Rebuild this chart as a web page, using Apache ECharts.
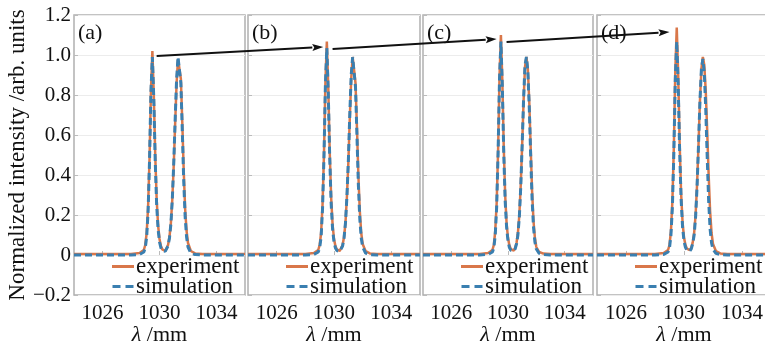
<!DOCTYPE html>
<html>
<head>
<meta charset="utf-8">
<script src="https://cdn.jsdelivr.net/npm/echarts@6/dist/echarts.min.js"></script>
<style>
  html, body { margin: 0; padding: 0; background: #fff; }
  #chart { width: 765px; height: 345px; }
</style>
</head>
<body>
<div id="chart"></div>
<script>
// wavelength samples shared by every panel (nm)
const wavelength = [1024, 1028, 1028.6, 1028.9, 1029.0, 1029.1, 1029.2, 1029.3, 1029.4, 1029.5,
  1029.6, 1029.7, 1029.8, 1029.9, 1030.0, 1030.1, 1030.2, 1030.3, 1030.4, 1030.5,
  1030.6, 1030.7, 1030.8, 1030.9, 1031.0, 1031.1, 1031.2, 1031.3, 1031.4, 1031.5,
  1031.6, 1031.7, 1031.8, 1031.9, 1032.0, 1032.2, 1032.5, 1033, 1036];

const expA = [0.005, 0.005, 0.01, 0.025, 0.05, 0.11, 0.24, 0.48, 0.82, 1.02,
  0.80, 0.50, 0.28, 0.15, 0.08, 0.045, 0.028, 0.02, 0.02, 0.03,
  0.05, 0.09, 0.16, 0.28, 0.45, 0.66, 0.86, 0.98, 0.99, 0.88,
  0.66, 0.42, 0.23, 0.12, 0.06, 0.02, 0.008, 0.005, 0.005];
const simA = [0, 0, 0.003, 0.015, 0.035, 0.09, 0.22, 0.47, 0.82, 0.99,
  0.78, 0.47, 0.25, 0.13, 0.065, 0.035, 0.022, 0.017, 0.018, 0.027,
  0.045, 0.085, 0.155, 0.28, 0.46, 0.68, 0.88, 0.99, 0.99, 0.86,
  0.62, 0.37, 0.19, 0.09, 0.04, 0.01, 0.002, 0, 0];

const expB = [0.005, 0.005, 0.01, 0.025, 0.05, 0.11, 0.25, 0.5, 0.86, 1.067,
  0.84, 0.52, 0.29, 0.155, 0.08, 0.045, 0.028, 0.02, 0.02, 0.03,
  0.05, 0.09, 0.16, 0.29, 0.46, 0.68, 0.88, 0.99, 0.98, 0.86,
  0.64, 0.40, 0.22, 0.11, 0.055, 0.02, 0.008, 0.005, 0.005];
const simB = [0, 0, 0.003, 0.015, 0.035, 0.09, 0.23, 0.49, 0.85, 1.035,
  0.81, 0.49, 0.26, 0.13, 0.065, 0.035, 0.022, 0.017, 0.018, 0.027,
  0.045, 0.085, 0.16, 0.29, 0.47, 0.70, 0.90, 0.99, 0.98, 0.84,
  0.60, 0.35, 0.18, 0.085, 0.04, 0.01, 0.002, 0, 0];

const expC = [0.005, 0.005, 0.01, 0.025, 0.05, 0.12, 0.26, 0.52, 0.89, 1.10,
  0.87, 0.54, 0.30, 0.16, 0.085, 0.047, 0.03, 0.022, 0.022, 0.035,
  0.06, 0.11, 0.2, 0.35, 0.55, 0.77, 0.94, 0.99, 0.93, 0.77,
  0.54, 0.32, 0.17, 0.085, 0.04, 0.015, 0.007, 0.005, 0.005];
const simC = [0, 0, 0.003, 0.015, 0.035, 0.1, 0.24, 0.51, 0.88, 1.067,
  0.84, 0.51, 0.27, 0.14, 0.07, 0.037, 0.023, 0.018, 0.019, 0.03,
  0.055, 0.1, 0.19, 0.34, 0.55, 0.78, 0.95, 0.99, 0.92, 0.74,
  0.50, 0.28, 0.14, 0.065, 0.03, 0.008, 0.002, 0, 0];

const expD = [0.005, 0.005, 0.01, 0.025, 0.05, 0.12, 0.27, 0.54, 0.92, 1.137,
  0.90, 0.56, 0.31, 0.165, 0.088, 0.05, 0.032, 0.024, 0.024, 0.037,
  0.062, 0.11, 0.2, 0.35, 0.55, 0.77, 0.93, 0.99, 0.95, 0.82,
  0.62, 0.40, 0.22, 0.11, 0.055, 0.02, 0.008, 0.005, 0.005];
const simD = [0, 0, 0.003, 0.015, 0.035, 0.1, 0.24, 0.51, 0.88, 1.067,
  0.85, 0.52, 0.28, 0.14, 0.07, 0.038, 0.024, 0.019, 0.02, 0.031,
  0.056, 0.1, 0.19, 0.34, 0.55, 0.77, 0.93, 0.98, 0.91, 0.73,
  0.49, 0.27, 0.13, 0.06, 0.028, 0.008, 0.002, 0, 0];

const panelLabels = ['(a)', '(b)', '(c)', '(d)'];
const xTicks = [1026, 1030, 1034];
// arrows between the first peaks: [gridIndex, x, y] -> [gridIndex, x, y]
const arrows = [
  [[0, 1029.8, 0.995], [1, 1029.25, 1.04]],
  [[1, 1029.9, 1.03], [2, 1029.2, 1.08]],
  [[2, 1029.9, 1.065], [3, 1029.0, 1.115]],
];

const experiment = [expA, expB, expC, expD];
const simulation = [simA, simB, simC, simD];

const serif = 'Liberation Serif';
const orange = '#d9774a';
const blue = '#3a7fb0';
const panels = [
  { left: 74, width: 171 },
  { left: 248, width: 172 },
  { left: 423, width: 170 },
  { left: 597, width: 174 },
];

const chart = echarts.init(document.getElementById('chart'));

const grid = panels.map((p) => ({
  left: p.left, width: p.width, top: 15, height: 280,
  show: true, borderColor: '#b0b0b0', borderWidth: 1.5,
  containLabel: false, outerBoundsMode: 'none',
}));

const xAxis = panels.map((p, i) => ({
  type: 'value', gridIndex: i, min: 1024, max: 1036,
  name: '{i|λ} /mm', nameLocation: 'middle', nameGap: 29, nameMoveOverlap: false,
  nameTextStyle: {
    fontFamily: serif, fontSize: 22, color: '#111',
    rich: { i: { fontFamily: serif, fontSize: 22, fontStyle: 'italic', color: '#111' } },
  },
  axisLine: { show: false },
  axisTick: { show: true, inside: true, length: 4, customValues: xTicks, lineStyle: { color: '#bbb' } },
  axisLabel: {
    customValues: xTicks, fontFamily: serif, fontSize: 21, color: '#111', margin: 8,
    formatter: (v) => String(v),
  },
  splitLine: { show: false },
}));

const yAxis = panels.map((p, i) => ({
  type: 'value', gridIndex: i, min: -0.2, max: 1.2, interval: 0.2,
  name: i === 0 ? 'Normalized intensity /arb. units' : '',
  nameLocation: 'middle', nameGap: 45,
  nameTextStyle: { fontFamily: serif, fontSize: 23, color: '#111' },
  axisLine: { show: false },
  axisTick: { show: true, inside: true, length: 4, lineStyle: { color: '#bbb' } },
  axisLabel: {
    show: i === 0, fontFamily: serif, fontSize: 21, color: '#111', margin: 3,
    formatter: (v) => (Math.abs(v) < 1e-9 ? '0' : v.toFixed(1).replace('-', '\u2212')),
  },
  splitLine: { show: true, lineStyle: { color: '#ececec', width: 1 } },
}));

const series = [];
panels.forEach((p, i) => {
  series.push({
    name: 'experiment', type: 'line', xAxisIndex: i, yAxisIndex: i,
    data: wavelength.map((x, k) => [x, experiment[i][k]]),
    symbol: 'none', lineStyle: { color: orange, width: 2.5 }, itemStyle: { color: orange },
    z: 2,
  });
  series.push({
    name: 'simulation', type: 'line', xAxisIndex: i, yAxisIndex: i,
    data: wavelength.map((x, k) => [x, simulation[i][k]]),
    symbol: 'none', lineStyle: { color: blue, width: 3, type: [7, 4] }, itemStyle: { color: blue },
    z: 3,
  });
});

const legend = panels.map((p) => ({
  data: [
    { name: 'experiment', icon: 'path://M0,0H22V3H0Z' },
    { name: 'simulation', icon: 'path://M0,0H8V3H0Z M13,0H21V3H13Z' },
  ],
  orient: 'vertical',
  left: p.left + 38, top: 255, itemGap: -3, itemWidth: 22, itemHeight: 3,
  selectedMode: false, padding: 0,
  textStyle: { fontFamily: serif, fontSize: 23, color: '#111', lineHeight: 20, padding: [0, 0, 0, -3] },
}));

const title = panels.map((p, i) => ({
  text: panelLabels[i], left: p.left + 4, top: 22, padding: 0,
  textStyle: { fontFamily: serif, fontSize: 22, fontWeight: 'normal', color: '#111' },
}));

chart.setOption({
  animation: false,
  title, grid, xAxis, yAxis, series, legend,
});

// arrows are placed after the grids exist so their ends follow the data scales
const graphic = [];
arrows.forEach(([from, to]) => {
  const a = chart.convertToPixel({ gridIndex: from[0] }, [from[1], from[2]]);
  const b = chart.convertToPixel({ gridIndex: to[0] }, [to[1], to[2]]);
  const ang = Math.atan2(b[1] - a[1], b[0] - a[0]);
  const len = 11, half = 3.5;
  const bx = b[0] - len * Math.cos(ang), by = b[1] - len * Math.sin(ang);
  graphic.push({
    type: 'line', z: 10,
    shape: { x1: a[0], y1: a[1], x2: bx, y2: by },
    style: { stroke: '#111', lineWidth: 2 },
  });
  graphic.push({
    type: 'polygon', z: 10,
    shape: {
      points: [
        [b[0], b[1]],
        [bx - half * Math.sin(ang), by + half * Math.cos(ang)],
        [bx + 2 * Math.cos(ang), by + 2 * Math.sin(ang)],
        [bx + half * Math.sin(ang), by - half * Math.cos(ang)],
      ],
    },
    style: { fill: '#111' },
  });
});
chart.setOption({ graphic });
</script>
</body>
</html>
